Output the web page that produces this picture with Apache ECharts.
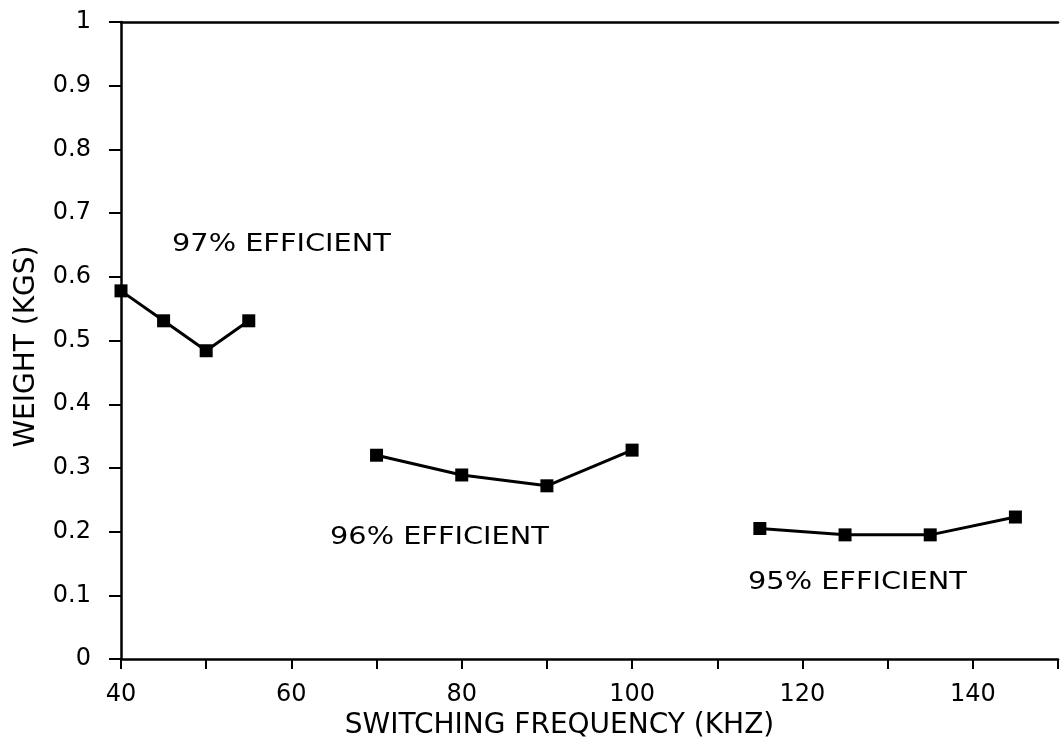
<!DOCTYPE html>
<html>
<head>
<meta charset="utf-8">
<script src="https://cdn.jsdelivr.net/npm/echarts@6/dist/echarts.min.js"></script>
<style>
html,body{margin:0;padding:0;background:#fff;}
#chart{width:1061px;height:745px;}
</style>
</head>
<body>
<div id="chart"></div>
<script>
// Data
const freq97 = [40, 45, 50, 55];
const weight97 = [0.578, 0.531, 0.484, 0.531];
const freq96 = [70, 80, 90, 100];
const weight96 = [0.320, 0.289, 0.272, 0.328];
const freq95 = [115, 125, 135, 145];
const weight95 = [0.205, 0.195, 0.195, 0.223];
const labels = ['97% EFFICIENT', '96% EFFICIENT', '95% EFFICIENT'];
const xTitle = 'SWITCHING FREQUENCY (KHZ)';
const yTitle = 'WEIGHT (KGS)';

const FONT = '"DejaVu Sans", "Liberation Sans", Arial, sans-serif';
const pairs = (xs, ys) => xs.map((x, i) => [x, ys[i]]);

const chart = echarts.init(document.getElementById('chart'), null, {renderer: 'canvas'});

function mkSeries(xs, ys) {
  return {
    type: 'line',
    data: pairs(xs, ys),
    symbol: 'rect',
    symbolSize: 13,
    lineStyle: {color: '#000', width: 3},
    itemStyle: {color: '#000'},
    animation: false,
    z: 3
  };
}

const annot = (text, x, y) => ({
  type: 'text', x: x, y: y, scaleX: 1.2, scaleY: 1,
  style: {text: text, font: '24px ' + FONT, fill: '#000', textVerticalAlign: 'middle'}
});

chart.setOption({
  animation: false,
  backgroundColor: '#fff',
  grid: {left: 121, top: 22, right: -4, bottom: 83, containLabel: false},
  xAxis: [{
    type: 'value', min: 40, max: 150, interval: 10,
    name: xTitle, nameLocation: 'middle', nameGap: 39,
    nameTextStyle: {fontFamily: FONT, fontSize: 28, color: '#000', padding: [0, 60, 0, 0]},
    axisLine: {show: true, onZero: false, lineStyle: {color: '#000', width: 2.5}},
    axisTick: {show: true, length: 10, lineStyle: {color: '#000', width: 2}},
    axisLabel: {
      fontFamily: FONT, fontSize: 24, color: '#000', margin: 24,
      formatter: v => (v % 20 === 0 && v < 150) ? String(v) : ''
    },
    splitLine: {show: false}
  }, {
    type: 'value', min: 40, max: 150, position: 'top',
    axisLine: {show: true, onZero: false, lineStyle: {color: '#000', width: 2.5}},
    axisTick: {show: false}, axisLabel: {show: false}, splitLine: {show: false}
  }],
  yAxis: {
    type: 'value', min: 0, max: 1, interval: 0.1,
    name: yTitle, nameLocation: 'middle', nameGap: 80,
    nameTextStyle: {fontFamily: FONT, fontSize: 28, color: '#000', padding: [0, 12, 0, 0]},
    axisLine: {show: true, onZero: false, lineStyle: {color: '#000', width: 2.5}},
    axisTick: {show: true, length: 12, lineStyle: {color: '#000', width: 2}},
    axisLabel: {
      fontFamily: FONT, fontSize: 24, color: '#000', margin: 30,
      formatter: v => String(Math.round(v * 10) / 10)
    },
    splitLine: {show: false}
  },
  series: [
    mkSeries(freq97, weight97),
    mkSeries(freq96, weight96),
    mkSeries(freq95, weight95)
  ],
  graphic: [
    annot(labels[0], 172, 245),
    annot(labels[1], 330, 538),
    annot(labels[2], 748, 583)
  ]
});
</script>
</body>
</html>
